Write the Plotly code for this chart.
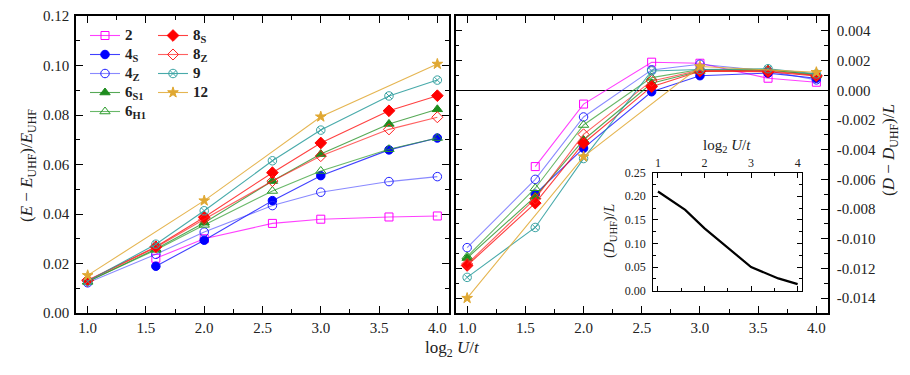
import plotly.graph_objects as go

# ---------------- data ----------------
log2U = [1.0, 1.585, 2.0, 2.585, 3.0, 3.585, 4.0]

# left panel: (E - E_UHF)/E_UHF
E_2   = [None, 0.0221, 0.0300, 0.0362, 0.0379, 0.0388, 0.0392]
E_4S  = [None, 0.0189, 0.0294, 0.0454, 0.0555, 0.0659, 0.0707]
E_4Z  = [0.0122, 0.0237, 0.0327, 0.0434, 0.0488, 0.0531, 0.0551]
E_6S1 = [0.0126, 0.0259, 0.0365, 0.0533, 0.0642, 0.0764, 0.0823]
E_6H1 = [0.0127, 0.0255, 0.0356, 0.0493, 0.0574, 0.0662, 0.0707]
E_8S  = [0.0132, 0.0268, 0.0387, 0.0567, 0.0687, 0.0817, 0.0878]
E_8Z  = [0.0130, 0.0265, 0.0379, 0.0533, 0.0634, 0.0742, 0.0791]
E_9   = [0.0128, 0.0278, 0.0413, 0.0615, 0.0739, 0.0877, 0.0941]
E_12  = [0.0152, None, 0.0454, None, 0.0793, None, 0.1006]

# right panel: (D - D_UHF)/L
D_2   = [None, -0.00514, -0.00093, 0.00189, 0.00182, 0.00081, 0.00054]
D_4S  = [None, -0.00700, -0.00390, -0.00010, 0.00098, 0.00115, 0.00081]
D_4Z  = [-0.01060, -0.00600, -0.00180, 0.00137, 0.00175, 0.00130, 0.00070]
D_6S1 = [-0.01130, -0.00716, -0.00335, 0.00047, 0.00130, 0.00135, 0.00108]
D_6H1 = [-0.01120, -0.00660, -0.00234, 0.00085, 0.00140, 0.00140, 0.00100]
D_8S  = [-0.01180, -0.00760, -0.00357, 0.00024, 0.00128, 0.00125, 0.00096]
D_8Z  = [-0.01170, -0.00730, -0.00297, 0.00063, 0.00135, 0.00130, 0.00100]
D_9   = [-0.01260, -0.00924, -0.00460, 0.00130, 0.00140, 0.00145, 0.00110]
D_12  = [-0.01400, None, -0.00447, None, 0.00160, None, 0.00121]

# inset: D_UHF / L
D_UHF = [0.210, 0.171, 0.132, 0.083, 0.050, 0.026, 0.014]

series_keys = ["2", "4S", "4Z", "6S1", "6H1", "8S", "8Z", "9", "12"]
series_labels = ["<b>2</b>", "<b>4</b><sub><b>S</b></sub>", "<b>4</b><sub><b>Z</b></sub>",
                 "<b>6</b><sub><b>S1</b></sub>", "<b>6</b><sub><b>H1</b></sub>",
                 "<b>8</b><sub><b>S</b></sub>", "<b>8</b><sub><b>Z</b></sub>",
                 "<b>9</b>", "<b>12</b>"]
E_data = [E_2, E_4S, E_4Z, E_6S1, E_6H1, E_8S, E_8Z, E_9, E_12]
D_data = [D_2, D_4S, D_4Z, D_6S1, D_6H1, D_8S, D_8Z, D_9, D_12]

left_yticks = [0.00, 0.02, 0.04, 0.06, 0.08, 0.10, 0.12]
right_yticks = [0.004, 0.002, 0.000, -0.002, -0.004, -0.006, -0.008, -0.010, -0.012, -0.014]
right_yticktext = ["0.004", "0.002", "0.000", "-0.002", "-0.004", "-0.006", "-0.008",
                   "-0.010", "-0.012", "-0.014"]
inset_xticks = [1, 2, 3, 4]
inset_yticks = [0, 0.05, 0.10, 0.15, 0.20, 0.25]

# ---------------- styles ----------------
styles = {
    "2":   dict(color="#ff00ff", line="rgba(255,0,255,0.75)", symbol="square-open", size=8, leg="legend"),
    "4S":  dict(color="#0000ff", line="rgba(0,0,255,0.75)", symbol="circle", size=8.5, leg="legend"),
    "4Z":  dict(color="#2020ff", line="rgba(40,40,255,0.55)", symbol="circle-open", size=8.5, leg="legend"),
    "6S1": dict(color="#1e8c1e", line="rgba(30,140,30,0.75)", symbol="triangle-up", size=9, leg="legend"),
    "6H1": dict(color="#2a9a2a", line="rgba(42,154,42,0.7)", symbol="triangle-up-open", size=9, leg="legend"),
    "8S":  dict(color="#ff0000", line="rgba(255,0,0,0.75)", symbol="diamond", size=9, leg="legend2"),
    "8Z":  dict(color="#ff2020", line="rgba(255,30,30,0.7)", symbol="diamond-open", size=8.5, leg="legend2"),
    "9":   dict(color="#3aa3a3", line="rgba(40,155,155,0.85)", symbol="circle-x-open", size=8.5, leg="legend2"),
    "12":  dict(color="#e0a832", line="rgba(224,168,50,0.85)", symbol="star", size=8, leg="legend2"),
}

FONT = "Liberation Serif"
TXT = "#222222"

fig = go.Figure()

for key, lab, ey, dy in zip(series_keys, series_labels, E_data, D_data):
    s = styles[key]
    mk = dict(color=s["color"], symbol=s["symbol"], size=s["size"],
              line=dict(color=s["color"], width=1))
    leg_text = '<span style="font-size:15px">' + lab + '</span>'
    fig.add_trace(go.Scatter(
        x=log2U, y=ey, mode="lines+markers", name=leg_text, legend=s["leg"],
        line=dict(color=s["line"], width=1.1), marker=mk, connectgaps=True,
        xaxis="x", yaxis="y"))
    fig.add_trace(go.Scatter(
        x=log2U, y=dy, mode="lines+markers", name=lab, showlegend=False,
        line=dict(color=s["line"], width=1.1), marker=mk, connectgaps=True,
        xaxis="x2", yaxis="y2"))

fig.add_trace(go.Scatter(x=log2U, y=D_UHF, mode="lines", showlegend=False,
                         line=dict(color="black", width=2.2), xaxis="x3", yaxis="y3"))

axis_common = dict(showline=True, linecolor="black", linewidth=1.5, mirror="allticks",
                   ticks="inside", ticklen=7, tickwidth=1, tickcolor="black",
                   showgrid=False, zeroline=False, automargin=False,
                   tickfont=dict(family=FONT, size=15, color=TXT))

L, R, T, B = 76, 82, 16, 62
W, H = 910 - L - R, 375 - T - B

inset_common = {**axis_common, "ticklen": 5, "linewidth": 1.2,
                "tickfont": dict(family=FONT, size=12, color=TXT)}

legend_common = dict(xanchor="left", yanchor="top", bgcolor="rgba(0,0,0,0)",
                     font=dict(family=FONT, size=11.3, color=TXT),
                     itemsizing="trace", tracegroupgap=0)

fig.update_layout(
    width=910, height=375,
    margin=dict(l=L, r=R, t=T, b=B, autoexpand=False),
    paper_bgcolor="white", plot_bgcolor="white",
    font=dict(family=FONT, color=TXT),
    xaxis=dict(domain=[0, 373 / W], range=[0.9, 4.1], dtick=0.5, tick0=1.0, tickformat=".1f",
               minor=dict(dtick=0.25, tick0=1.0, ticks="inside", ticklen=4, tickcolor="black"),
               ticklabelstandoff=0, anchor="y", **axis_common),
    yaxis=dict(domain=[0, 1], range=[0, 0.12], tickvals=left_yticks, tickformat=".2f",
               minor=dict(dtick=0.01, ticks="inside", ticklen=4, tickcolor="black"),
               ticklabelstandoff=2, anchor="x", **axis_common),
    xaxis2=dict(domain=[379.5 / W, 1], range=[0.9, 4.1], dtick=0.5, tick0=1.0, tickformat=".1f",
                minor=dict(dtick=0.25, tick0=1.0, ticks="inside", ticklen=4, tickcolor="black"),
                ticklabelstandoff=0, anchor="y2", **axis_common),
    yaxis2=dict(domain=[0, 1], range=[-0.015, 0.005], side="right",
                tickvals=right_yticks, ticktext=right_yticktext,
                minor=dict(dtick=0.001, tick0=0, ticks="inside", ticklen=4, tickcolor="black"),
                ticklabelstandoff=4, anchor="x2",
                **{k: v for k, v in axis_common.items() if k != "zeroline"},
                zeroline=True, zerolinecolor="black", zerolinewidth=1),
    xaxis3=dict(domain=[(653.3 - L) / W, (802.3 - L) / W], range=[0.9, 4.1], side="top",
                tickvals=inset_xticks, anchor="y3",
                minor=dict(dtick=0.5, tick0=1, ticks="inside", ticklen=3, tickcolor="black"),
                **inset_common),
    yaxis3=dict(domain=[(313 - 290.7) / H, (313 - 172.6) / H], range=[0, 0.25],
                tickvals=inset_yticks, tickformat=".2f", anchor="x3",
                minor=dict(dtick=0.025, ticks="inside", ticklen=3, tickcolor="black"),
                ticklabelstandoff=4, **inset_common),
    legend=dict(x=(85 - L) / W, y=(313 - 21) / H, **legend_common),
    legend2=dict(x=(153 - L) / W, y=(313 - 21) / H, **legend_common),
    annotations=[
        dict(text="log<sub>2</sub> <i>U</i>/<i>t</i>", xref="paper", yref="paper",
             x=(452 - L) / W, y=(313 - 349) / H, xanchor="center", yanchor="middle",
             showarrow=False, font=dict(family=FONT, size=17, color=TXT)),
        dict(text="(<i>E</i> − <i>E</i><sub>UHF</sub>)/<i>E</i><sub>UHF</sub>",
             xref="paper", yref="paper", x=(28 - L) / W, y=(313 - 166) / H,
             xanchor="center", yanchor="middle", textangle=-90, showarrow=False,
             font=dict(family=FONT, size=17, color=TXT)),
        dict(text="(<i>D</i> − <i>D</i><sub>UHF</sub>)/<i>L</i>",
             xref="paper", yref="paper", x=(890 - L) / W, y=(313 - 150) / H,
             xanchor="center", yanchor="middle", textangle=-90, showarrow=False,
             font=dict(family=FONT, size=17, color=TXT)),
        dict(text="log<sub>2</sub> <i>U</i>/<i>t</i>", xref="paper", yref="paper",
             x=(727 - L) / W, y=(313 - 146) / H, xanchor="center", yanchor="middle",
             showarrow=False, font=dict(family=FONT, size=15, color=TXT)),
        dict(text="(<i>D</i><sub>UHF</sub>)/<i>L</i>",
             xref="paper", yref="paper", x=(610 - L) / W, y=(313 - 231) / H,
             xanchor="center", yanchor="middle", textangle=-90, showarrow=False,
             font=dict(family=FONT, size=15, color=TXT)),
    ],
)

fig.write_html("out.html", post_script="document.body.style.margin='0';",
               config={"displayModeBar": False})
